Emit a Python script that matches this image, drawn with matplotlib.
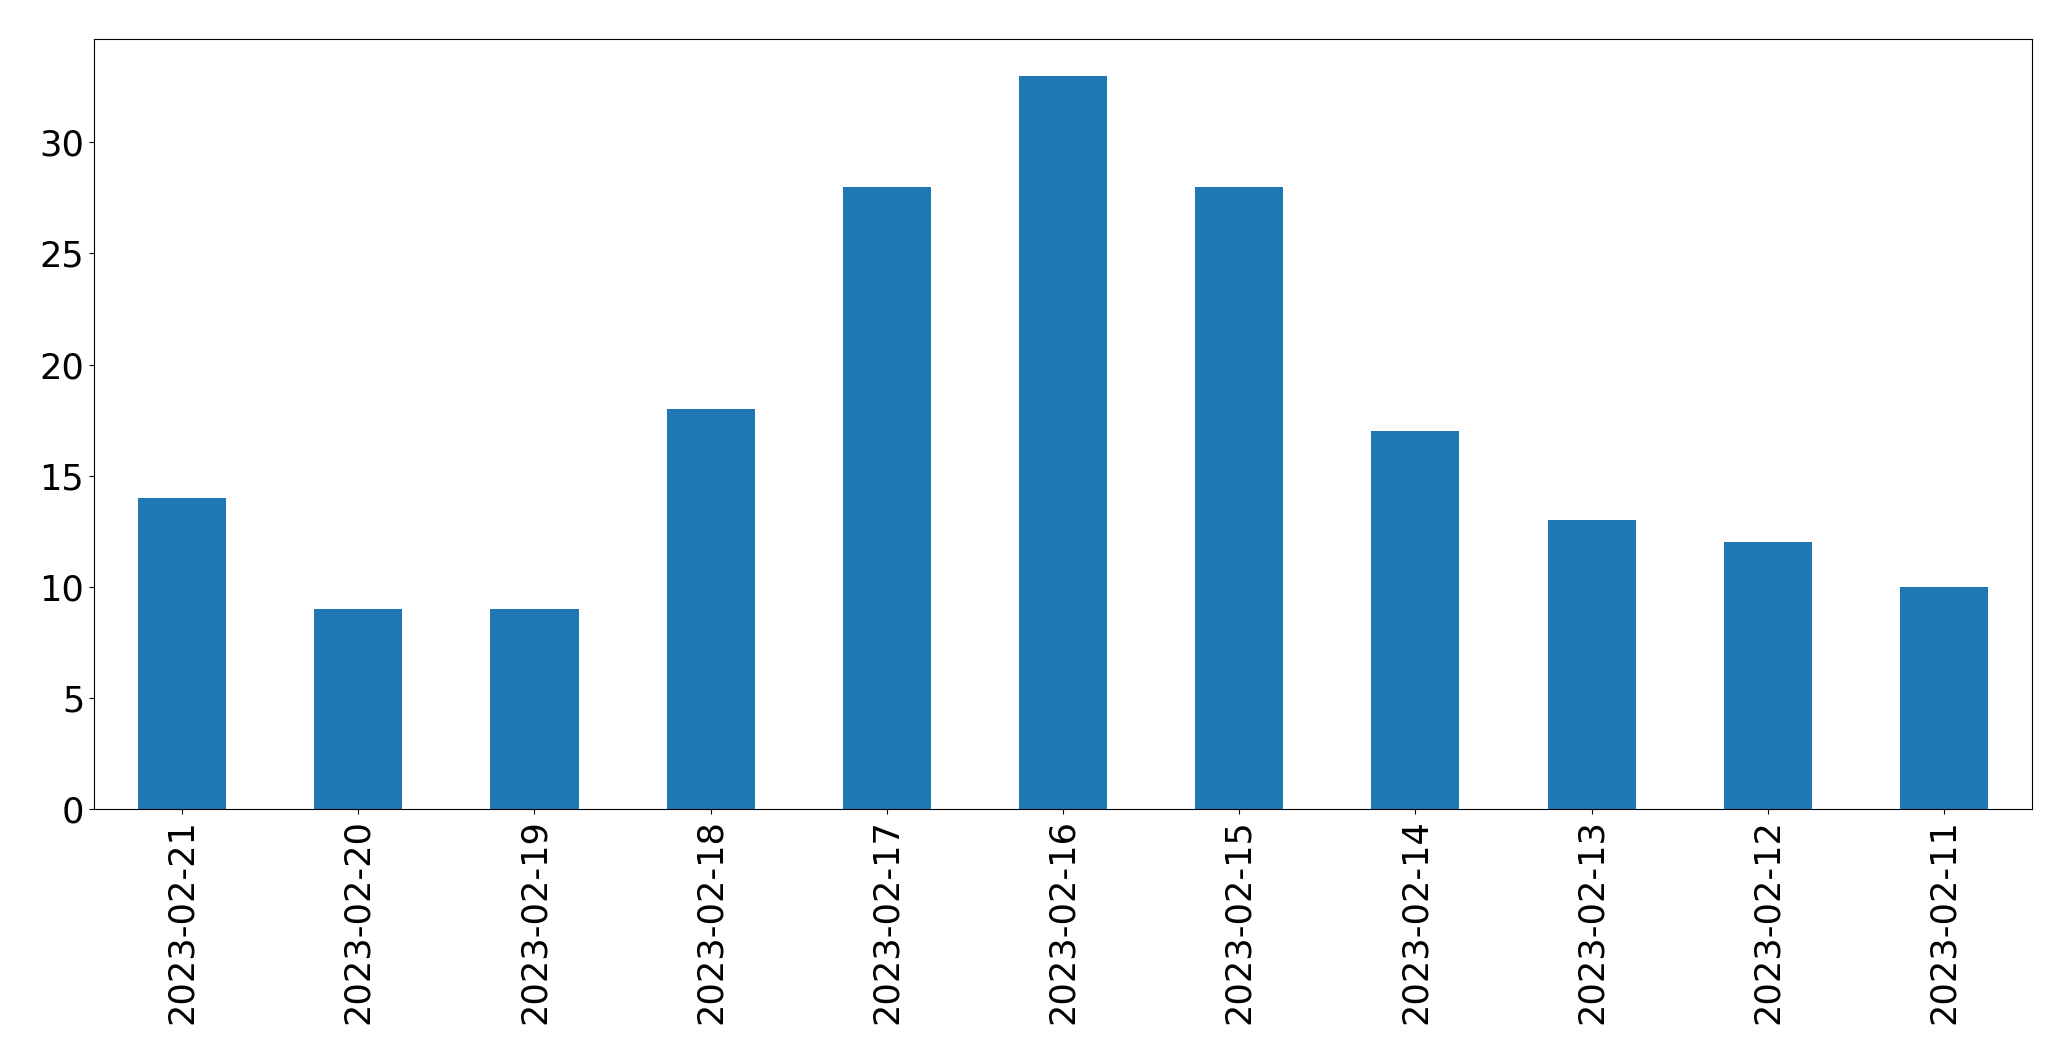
import matplotlib.pyplot as plt
import numpy as np

dates = ["2023-02-21", "2023-02-20", "2023-02-19", "2023-02-18", "2023-02-17",
         "2023-02-16", "2023-02-15", "2023-02-14", "2023-02-13", "2023-02-12",
         "2023-02-11"]
counts = [14, 9, 9, 18, 28, 33, 28, 17, 13, 12, 10]

fig, ax = plt.subplots(figsize=(20.71, 10.61), dpi=100)
x = np.arange(len(dates))
ax.bar(x, counts, width=0.5, color="#1f77b4")
ax.set_xlim(-0.5, len(dates) - 0.5)
ax.set_xticks(x)
ax.set_xticklabels(dates, rotation=90)
ax.tick_params(labelsize=25.3)
fig.subplots_adjust(left=0.0454, right=0.9812, top=0.9632, bottom=0.2375)
plt.savefig("out.png")
